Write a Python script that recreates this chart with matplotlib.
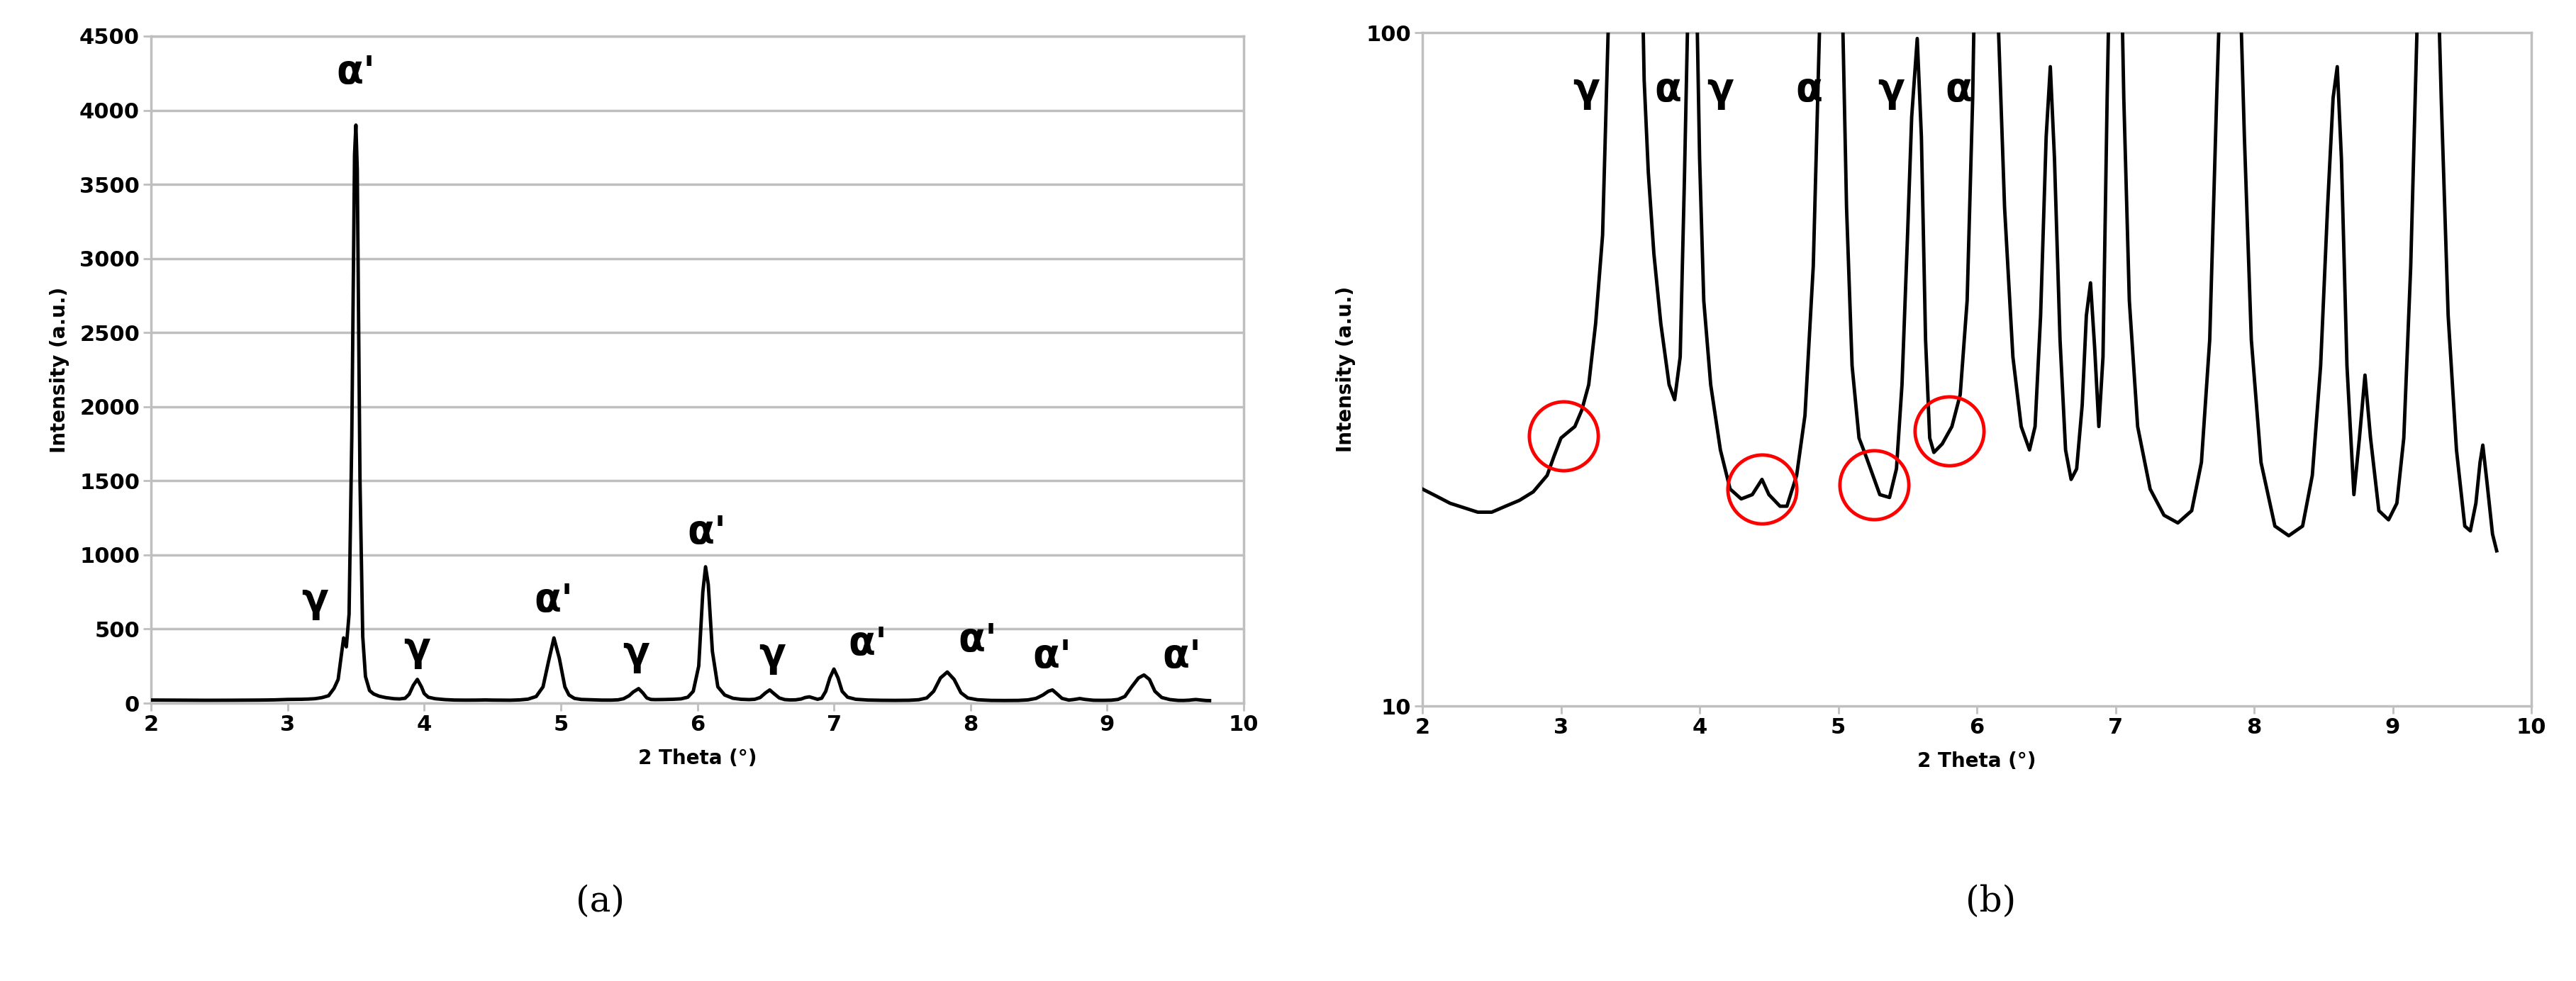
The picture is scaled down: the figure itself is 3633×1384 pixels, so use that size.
import matplotlib
matplotlib.use("Agg")
import matplotlib.pyplot as plt
from matplotlib.ticker import FixedLocator, NullLocator

theta = [2.0,2.1,2.2,2.3,2.4,2.5,2.6,2.7,2.8,2.9,2.95,3.0,3.05,3.1,3.15,3.2,3.25,3.3,3.34,3.37,3.39,3.41,3.43,3.45,3.47,3.49,3.50,3.51,3.53,3.55,3.57,3.6,3.63,3.67,3.72,3.78,3.82,3.86,3.89,3.92,3.95,3.98,4.0,4.03,4.08,4.15,4.22,4.3,4.38,4.45,4.5,4.58,4.63,4.7,4.76,4.82,4.87,4.91,4.95,4.99,5.03,5.06,5.1,5.15,5.2,5.25,5.3,5.37,5.42,5.46,5.5,5.53,5.57,5.6,5.63,5.66,5.69,5.75,5.82,5.88,5.93,5.97,6.01,6.04,6.06,6.08,6.11,6.15,6.2,6.26,6.32,6.38,6.42,6.46,6.5,6.53,6.56,6.6,6.64,6.68,6.72,6.76,6.79,6.82,6.85,6.88,6.91,6.94,6.97,7.0,7.03,7.06,7.1,7.16,7.25,7.35,7.45,7.55,7.62,7.68,7.73,7.78,7.83,7.88,7.93,7.98,8.05,8.15,8.25,8.35,8.42,8.48,8.53,8.57,8.6,8.63,8.67,8.72,8.76,8.8,8.84,8.9,8.97,9.03,9.08,9.13,9.18,9.23,9.27,9.31,9.35,9.4,9.46,9.52,9.56,9.6,9.63,9.65,9.68,9.72,9.75]
intensity = [21,20.5,20,19.7,19.4,19.4,19.8,20.2,20.8,22,23.5,25,25.5,26,27.5,30,37,50,100,160,300,440,380,600,1800,3700,3900,3600,1500,450,180,85,62,47,37,30,28.5,33,60,120,160,110,65,40,30,24,21,20.3,20.6,21.7,20.6,19.8,19.8,22,27,45,110,280,440,300,110,55,32,25,23.5,22,20.6,20.4,22.5,30,50,75,98,70,35,25,23.8,24.5,26,29,40,80,250,750,920,800,350,110,55,33,26,24,26,38,70,89,65,35,24,21.7,22.5,28,38,42.5,34,26,33,80,170,230,170,80,40,26,21,19.2,18.7,19.5,23,35,80,170,210,160,70,35,23,18.5,17.9,18.5,22,32,55,80,89,65,32,20.6,25,31,25,19.5,18.9,20,25,45,110,170,190,160,80,38,24,18.5,18.2,20,23,24.4,21.5,18,17]

labels_a = ["γ","α'","γ","α'","γ","α'","γ","α'","α'","α'","α'"]
labels_a_x = [3.2,3.5,3.95,4.95,5.55,6.07,6.55,7.25,8.05,8.6,9.55]
labels_a_y = [560,4120,230,560,200,1020,190,270,290,180,180]

labels_b = ["γ","α","γ","α","γ","α"]
labels_b_x = [3.18,3.77,4.15,4.79,5.38,5.87]
labels_b_y = [82,82,82,82,82,82]

circle_x = [3.02,4.45,5.26,5.8]
circle_y = [25.2,21.0,21.3,25.6]

fig = plt.figure(figsize=(36.33,13.84), dpi=100)
ax1 = fig.add_axes([213/3633, 1-992/1384, (1754-213)/3633, (992-51)/1384])
ax2 = fig.add_axes([2006/3633, 1-996/1384, (3570-2006)/3633, (996-46)/1384])

grey = "#bfbfbf"
for ax in (ax1, ax2):
    ax.plot(theta, intensity, color="black", lw=3.5, zorder=3)
    ax.set_xlim(2,10)
    ax.set_xticks(range(2,11))
    for s in ax.spines.values():
        s.set_color(grey); s.set_linewidth(2.5)
    ax.tick_params(labelsize=22, length=8, width=2, color=grey, direction="out")
    ax.set_xlabel("2 Theta (°)", fontsize=20, fontweight="bold", labelpad=14)
    ax.set_ylabel("Intensity (a.u.)", fontsize=20, fontweight="bold", labelpad=10)

ax1.set_ylim(0,4500)
ax1.set_yticks(range(0,4501,500))
ax1.grid(axis="y", color=grey, lw=2.5)
ax1.set_axisbelow(True)
for l,x,y in zip(labels_a, labels_a_x, labels_a_y):
    ax1.text(x, y, l, fontsize=40, fontweight="bold", ha="center", va="bottom")

ax2.set_yscale("log")
ax2.set_ylim(10,100)
ax2.yaxis.set_major_locator(FixedLocator([10,100]))
ax2.yaxis.set_minor_locator(NullLocator())
ax2.set_yticklabels(["10","100"])
for l,x,y in zip(labels_b, labels_b_x, labels_b_y):
    ax2.text(x, y, l, fontsize=40, fontweight="bold", ha="center", va="center")
ax2.plot(circle_x, circle_y, ls="none", marker="o", ms=70, mfc="none", mec="red", mew=3.5, zorder=4, clip_on=False)

for ax in (ax1, ax2):
    for t in ax.get_xticklabels()+ax.get_yticklabels():
        t.set_fontweight("bold")

fig.text(846/3633, 1-1272/1384, "(a)", fontsize=36, ha="center", va="center", family="DejaVu Serif")
fig.text(2808/3633, 1-1272/1384, "(b)", fontsize=36, ha="center", va="center", family="DejaVu Serif")
fig.savefig("out.png", dpi=100, facecolor="white")
